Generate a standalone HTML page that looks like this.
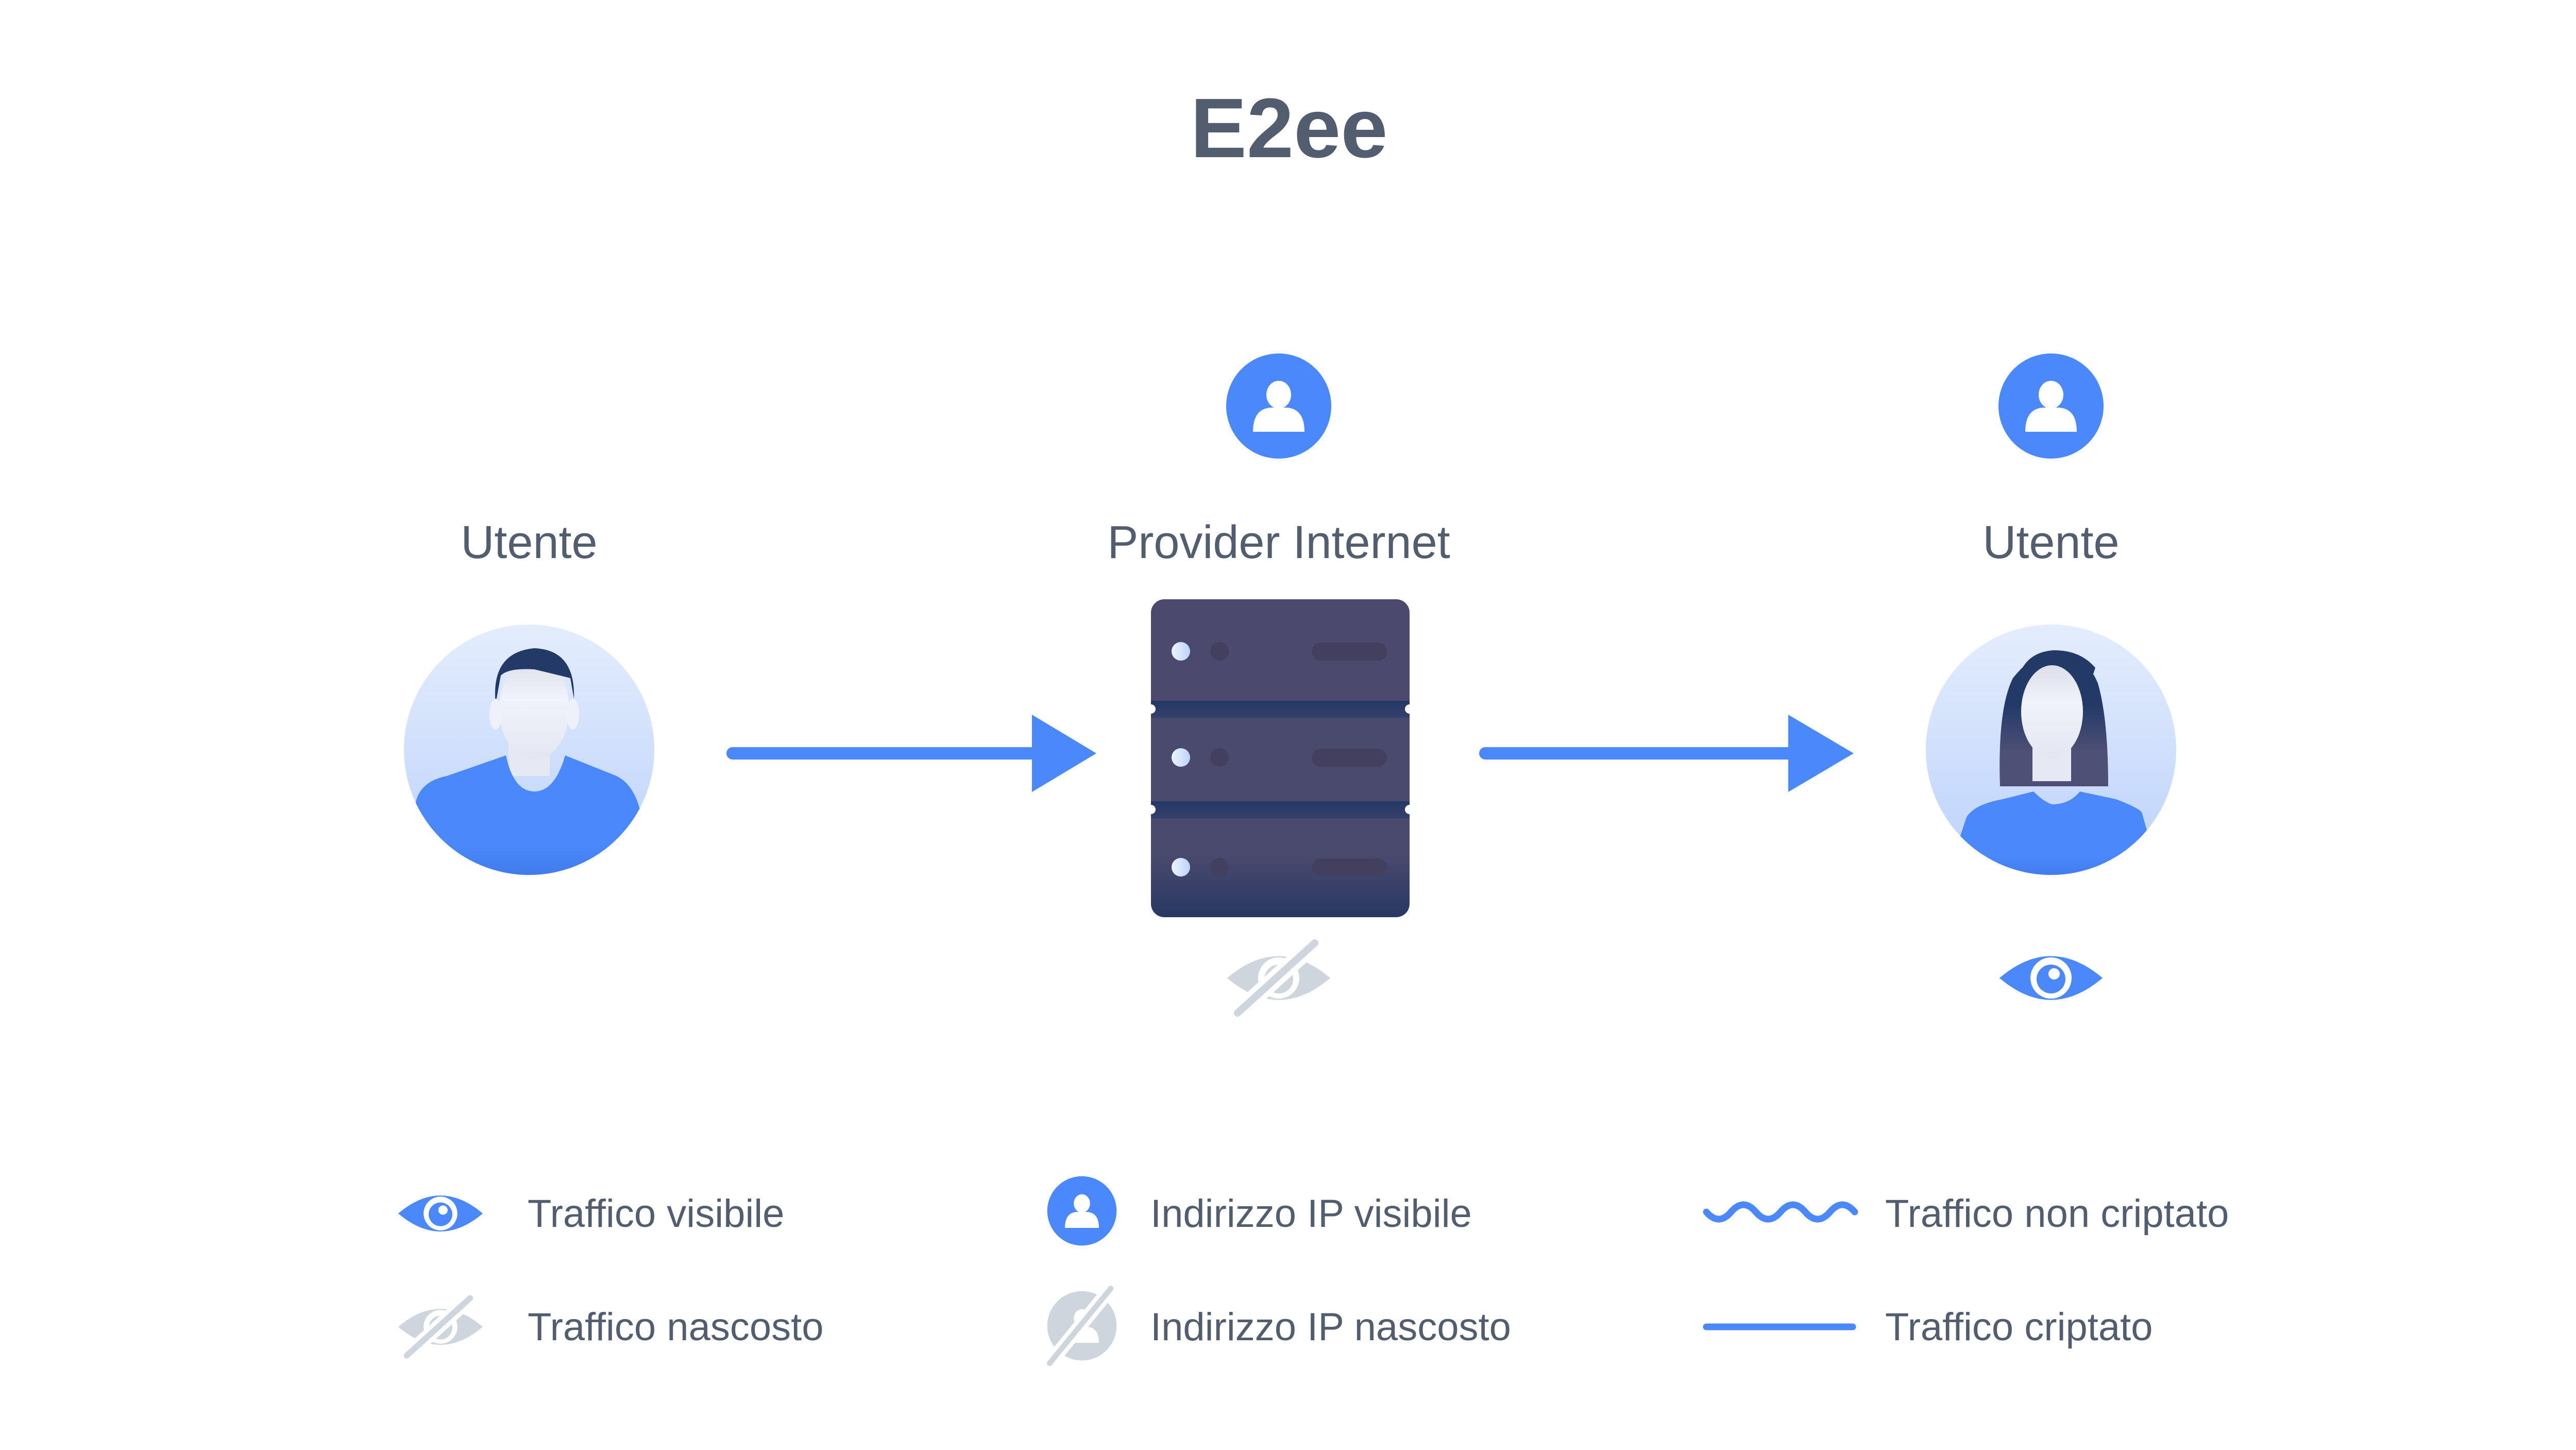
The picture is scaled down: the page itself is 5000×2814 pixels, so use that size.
<!DOCTYPE html>
<html><head><meta charset="utf-8"><style>
html,body{margin:0;padding:0;background:#fff;}
svg{display:block;}
text{font-family:"Liberation Sans",sans-serif;fill:#535d70;}
</style></head><body>
<svg width="5000" height="2814" viewBox="0 0 5000 2814" xmlns="http://www.w3.org/2000/svg">
<defs>
<linearGradient id="bg" x1="0" y1="0" x2="0" y2="1"><stop offset="0" stop-color="#e4edfd"/><stop offset="1" stop-color="#bcd2fb"/></linearGradient>
<linearGradient id="body" x1="0" y1="0" x2="0" y2="1"><stop offset="0" stop-color="#4a88fb"/><stop offset="0.7" stop-color="#4a88fb"/><stop offset="1" stop-color="#3f78e6"/></linearGradient>
<linearGradient id="srv" x1="0" y1="0" x2="0" y2="1"><stop offset="0" stop-color="#4b4a6e"/><stop offset="0.8" stop-color="#4a4a6e"/><stop offset="1" stop-color="#283864"/></linearGradient>
<linearGradient id="band" x1="0" y1="0" x2="0" y2="1"><stop offset="0" stop-color="#243864"/><stop offset="1" stop-color="#36406c"/></linearGradient>
<linearGradient id="dot" x1="0" y1="0" x2="1" y2="0"><stop offset="0" stop-color="#eef3fd"/><stop offset="1" stop-color="#bcd3fb"/></linearGradient>
<linearGradient id="hairf" x1="0" y1="0" x2="0" y2="1"><stop offset="0" stop-color="#233a68"/><stop offset="0.4" stop-color="#233a68"/><stop offset="0.75" stop-color="#4f5075"/></linearGradient>
<linearGradient id="face" x1="0" y1="0" x2="0" y2="1"><stop offset="0" stop-color="#dcdfea"/><stop offset="0.4" stop-color="#f0f3fb"/><stop offset="1" stop-color="#e4e7f2"/></linearGradient>
<clipPath id="c1"><circle cx="1027" cy="1455" r="243"/></clipPath>
<clipPath id="c2"><circle cx="3981" cy="1455" r="243"/></clipPath>
<g id="pin">
<circle cx="0" cy="0" r="102" fill="#4a88fb"/>
<ellipse cx="0" cy="-22" rx="24" ry="27" fill="#fff"/>
<path d="M-50 50 Q-50 5 -15 3 L15 3 Q50 5 50 50 Z" fill="#fff"/>
</g>
<g id="eye">
<path d="M-100 0 Q0 -85 100 0 Q0 85 -100 0 Z" fill="#4a88fb"/>
<circle cx="0" cy="0" r="40" fill="#fff"/>
<circle cx="0" cy="2" r="28" fill="#4a88fb"/>
<circle cx="6" cy="-8" r="11" fill="#fff"/>
</g>
<g id="heye">
<path d="M-100 0 Q0 -85 100 0 Q0 85 -100 0 Z" fill="#cfd5dd"/>
<circle cx="0" cy="0" r="40" fill="#fff"/>
<circle cx="0" cy="2" r="28" fill="#cfd5dd"/>
<line x1="-80" y1="68" x2="70" y2="-68" stroke="#fff" stroke-width="34"/>
<line x1="-80" y1="68" x2="70" y2="-68" stroke="#cfd5dd" stroke-width="14" stroke-linecap="round"/>
</g>
</defs>

<text x="2502" y="305" font-size="164" font-weight="bold" text-anchor="middle" fill="#525c6e">E2ee</text>

<!-- left user -->
<text x="1027" y="1083" font-size="90" text-anchor="middle">Utente</text>
<circle cx="1027" cy="1455" r="243" fill="url(#bg)"/>
<g clip-path="url(#c1)">
<rect x="987" y="1396" width="80" height="110" fill="#e6e9f3"/>
<path d="M807 1556 Q817 1516 867 1506 L982 1466 Q997 1536 1037 1536 Q1077 1536 1097 1466 L1197 1506 Q1237 1526 1247 1596 L1257 1716 L797 1716 Z" fill="url(#body)"/>
<ellipse cx="1037" cy="1376" rx="68" ry="98" fill="url(#face)"/>
<path d="M962 1366 Q952 1266 1037 1258 Q1117 1261 1114 1356 L1107 1316 Q1067 1306 1037 1299 Q987 1296 972 1311 Z" fill="#233a68"/>
<ellipse cx="962" cy="1386" rx="12" ry="30" fill="#eef1f9"/>
<ellipse cx="1112" cy="1386" rx="12" ry="30" fill="#eef1f9"/>
</g>

<!-- arrow 1 -->
<line x1="1422" y1="1462" x2="2008" y2="1462" stroke="#4a88fb" stroke-width="24" stroke-linecap="round"/>
<path d="M2003 1387 L2128 1462 L2003 1537 Z" fill="#4a88fb"/>

<!-- provider -->
<use href="#pin" x="2482" y="788"/>
<text x="2482" y="1083" font-size="90" text-anchor="middle">Provider Internet</text>
<rect x="2234" y="1163" width="502" height="617" rx="26" fill="url(#srv)"/>
<rect x="2234" y="1360" width="502" height="33" fill="url(#band)"/>
<rect x="2234" y="1555" width="502" height="33" fill="url(#band)"/>
<g fill="#fff">
<circle cx="2234" cy="1376" r="9"/><circle cx="2736" cy="1376" r="9"/>
<circle cx="2234" cy="1571" r="9"/><circle cx="2736" cy="1571" r="9"/>
</g>
<g fill="url(#dot)">
<circle cx="2292" cy="1264" r="18"/><circle cx="2292" cy="1470" r="18"/><circle cx="2292" cy="1683" r="18"/>
</g>
<g fill="#43405f">
<circle cx="2367" cy="1264" r="18"/><circle cx="2367" cy="1470" r="18"/><circle cx="2367" cy="1683" r="18"/>
<rect x="2546" y="1247" width="146" height="35" rx="17"/><rect x="2546" y="1453" width="146" height="35" rx="17"/><rect x="2546" y="1666" width="146" height="35" rx="17"/>
</g>
<use href="#heye" x="2482" y="1898"/>

<!-- arrow 2 -->
<line x1="2883" y1="1462" x2="3477" y2="1462" stroke="#4a88fb" stroke-width="24" stroke-linecap="round"/>
<path d="M3471 1387 L3598 1462 L3471 1537 Z" fill="#4a88fb"/>

<!-- right user -->
<use href="#pin" x="3981" y="788"/>
<text x="3981" y="1083" font-size="90" text-anchor="middle">Utente</text>
<circle cx="3981" cy="1455" r="243" fill="url(#bg)"/>
<g clip-path="url(#c2)">
<path d="M3882 1526 Q3877 1376 3907 1316 Q3947 1266 3987 1264 Q4047 1266 4072 1326 Q4092 1396 4092 1526 Z" fill="url(#hairf)"/>
<rect x="3945" y="1396" width="75" height="120" fill="#e6e9f3"/>
<path d="M3797 1646 L3817 1586 Q3832 1561 3887 1551 L3947 1536 Q3967 1556 3983 1561 Q4017 1561 4037 1536 L4107 1551 Q4147 1566 4157 1576 L4177 1646 L4187 1716 L3787 1716 Z" fill="url(#body)"/>
<ellipse cx="3983" cy="1381" rx="60" ry="90" fill="url(#face)"/>
<path d="M3922 1326 Q3937 1286 3977 1276 Q4017 1296 4057 1326 L4067 1296 Q4037 1261 3985 1262 Q3932 1266 3917 1316 Z" fill="#233a68"/>
</g>
<use href="#eye" x="3981" y="1898"/>

<!-- legend -->
<use href="#eye" x="0" y="0" transform="translate(855,2355) scale(0.82)"/>
<text x="1024" y="2381" font-size="76">Traffico visibile</text>
<use href="#heye" x="0" y="0" transform="translate(855,2575) scale(0.82)"/>
<text x="1024" y="2601" font-size="76">Traffico nascosto</text>

<use href="#pin" x="0" y="0" transform="translate(2100,2350) scale(0.66)"/>
<text x="2233" y="2381" font-size="76">Indirizzo IP visibile</text>
<g transform="translate(2100,2573) scale(0.66)">
<circle cx="0" cy="0" r="102" fill="#cfd5dd"/>
<ellipse cx="0" cy="-22" rx="24" ry="27" fill="#fff"/>
<path d="M-50 50 Q-50 5 -15 3 L15 3 Q50 5 50 50 Z" fill="#fff"/>
<line x1="-95" y1="110" x2="85" y2="-110" stroke="#fff" stroke-width="40"/>
<line x1="-95" y1="110" x2="85" y2="-110" stroke="#cfd5dd" stroke-width="16" stroke-linecap="round"/>
</g>
<text x="2233" y="2601" font-size="76">Indirizzo IP nascosto</text>

<path d="M3312 2352 q24 28 48 0 t48 0 t48 0 t48 0 t48 0 t48 0" fill="none" stroke="#4a88fb" stroke-width="13" stroke-linecap="round"/>
<text x="3659" y="2381" font-size="76">Traffico non criptato</text>
<line x1="3312" y1="2575" x2="3596" y2="2575" stroke="#4a88fb" stroke-width="13" stroke-linecap="round"/>
<text x="3659" y="2601" font-size="76">Traffico criptato</text>
</svg>
</body></html>
